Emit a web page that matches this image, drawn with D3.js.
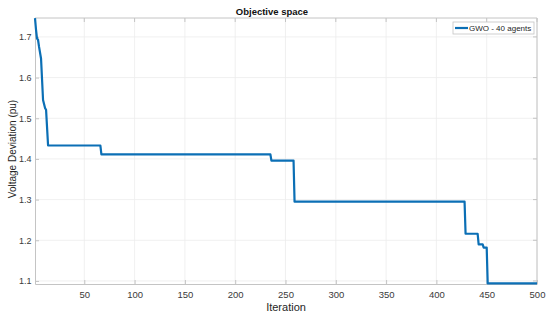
<!DOCTYPE html>
<html>
<head>
<meta charset="utf-8">
<script src="https://cdn.jsdelivr.net/npm/d3@7"></script>
<style>
  body { margin: 0; background: #fff; }
  text { font-family: "Liberation Sans", Arial, sans-serif; }
</style>
</head>
<body>
<div id="visual"></div>
<script>
// breakpoints of the convergence curve (iteration, best fitness)
const iterations = [1, 2, 3, 4, 5, 7, 9, 11, 12, 14, 66, 67, 235, 236, 258, 259, 428, 429, 441, 442, 446, 447, 450, 451, 500];
const fitness = [1.746, 1.718, 1.696, 1.693, 1.676, 1.647, 1.545, 1.525, 1.521, 1.433, 1.433, 1.411, 1.411, 1.396, 1.396, 1.295, 1.295, 1.216, 1.216, 1.19, 1.19, 1.182, 1.182, 1.094, 1.094];
const xTicks = [50, 100, 150, 200, 250, 300, 350, 400, 450, 500];
const yTicks = [1.1, 1.2, 1.3, 1.4, 1.5, 1.6, 1.7];
const seriesName = "GWO - 40 agents";

const W = 550, H = 318;
const margin = { top: 18, right: 13, bottom: 34, left: 35 };
const width = W - margin.left - margin.right;
const height = H - margin.top - margin.bottom;

const svg = d3.select("#visual")
  .append("svg")
  .attr("width", W)
  .attr("height", H);

const g = svg.append("g")
  .attr("transform", `translate(${margin.left},${margin.top})`);

const x = d3.scaleLinear().domain([1, 500]).range([0, width]);
const y = d3.scaleLinear().domain([1.0925, 1.7465]).range([height, 0]);

// grid
g.append("g").selectAll("line").data(xTicks).join("line")
  .attr("x1", d => x(d)).attr("x2", d => x(d))
  .attr("y1", 0).attr("y2", height)
  .attr("stroke", "#ececec").attr("stroke-width", 0.8);
g.append("g").selectAll("line").data(yTicks).join("line")
  .attr("x1", 0).attr("x2", width)
  .attr("y1", d => y(d)).attr("y2", d => y(d))
  .attr("stroke", "#ececec").attr("stroke-width", 0.8);

// axes
const xAxis = g.append("g")
  .attr("transform", `translate(0,${height})`)
  .call(d3.axisBottom(x).tickValues(xTicks).tickSizeInner(-4).tickSizeOuter(0).tickPadding(7));
const yAxis = g.append("g")
  .call(d3.axisLeft(y).tickValues(yTicks).tickFormat(d3.format(".1f")).tickSizeInner(-4).tickSizeOuter(0).tickPadding(3.5));

[xAxis, yAxis].forEach(a => {
  a.select(".domain").attr("stroke", "#c4c4c4");
  a.selectAll(".tick line").attr("stroke", "#c4c4c4");
  a.selectAll(".tick text").attr("fill", "#3a3a3a").attr("font-size", 9.5);
});
yAxis.selectAll(".tick text").attr("font-size", 9);

// box top / right
g.append("line").attr("x1", 0).attr("x2", width).attr("y1", 0).attr("y2", 0).attr("stroke", "#c4c4c4");
g.append("line").attr("x1", width).attr("x2", width).attr("y1", 0).attr("y2", height).attr("stroke", "#c4c4c4");
g.append("g").selectAll("line").data(xTicks).join("line")
  .attr("x1", d => x(d)).attr("x2", d => x(d)).attr("y1", 0).attr("y2", 4).attr("stroke", "#c4c4c4");
g.append("g").selectAll("line").data(yTicks).join("line")
  .attr("x1", width).attr("x2", width - 4).attr("y1", d => y(d)).attr("y2", d => y(d)).attr("stroke", "#c4c4c4");

// curve
const pts = iterations.map((it, i) => [it, fitness[i]]);
g.append("path")
  .datum(pts)
  .attr("fill", "none")
  .attr("stroke", "#0b6fb5")
  .attr("stroke-width", 2.2)
  .attr("stroke-linejoin", "round")
  .attr("d", d3.line().x(d => x(d[0])).y(d => y(d[1])));

// title and labels
svg.append("text")
  .attr("x", 272).attr("y", 15)
  .attr("text-anchor", "middle")
  .attr("font-weight", "bold").attr("font-size", 9.5)
  .attr("fill", "#111")
  .text("Objective space");

svg.append("text")
  .attr("x", margin.left + width / 2).attr("y", 311)
  .attr("text-anchor", "middle")
  .attr("font-size", 11)
  .attr("fill", "#262626")
  .text("Iteration");

svg.append("text")
  .attr("transform", `translate(16,${margin.top + height / 2 - 2}) rotate(-90)`)
  .attr("text-anchor", "middle")
  .attr("font-size", 10)
  .attr("fill", "#262626")
  .text("Voltage Deviation (pu)");

// legend
const leg = svg.append("g").attr("transform", "translate(453,22)");
leg.append("rect")
  .attr("width", 81).attr("height", 12)
  .attr("fill", "#fff").attr("stroke", "#c4c4c4").attr("stroke-width", 0.8);
leg.append("line")
  .attr("x1", 2).attr("x2", 15).attr("y1", 6).attr("y2", 6)
  .attr("stroke", "#0b6fb5").attr("stroke-width", 2.2);
leg.append("text")
  .attr("x", 16).attr("y", 9)
  .attr("font-size", 8)
  .attr("fill", "#262626")
  .text(seriesName);
</script>
</body>
</html>
